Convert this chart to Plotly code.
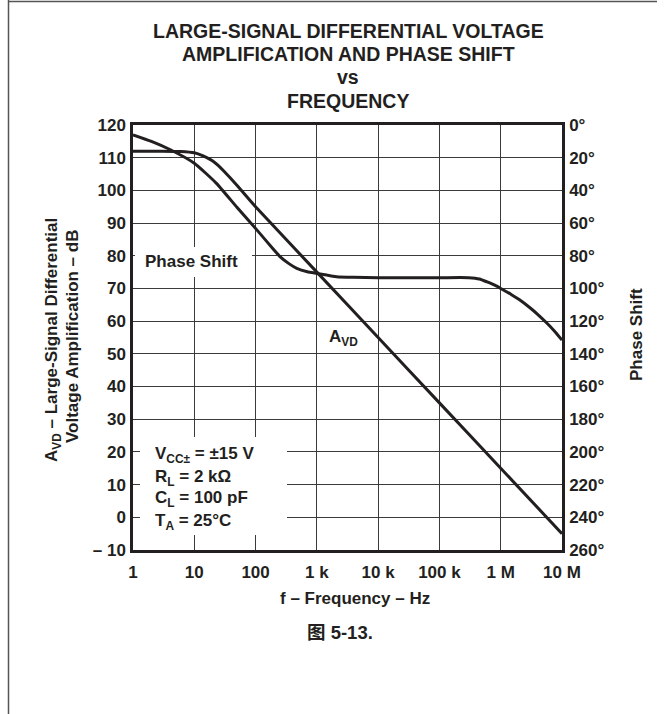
import plotly.graph_objects as go

# Large-signal differential voltage amplification (dB) vs frequency (Hz)
avd_freq = [1, 3, 6, 10, 13, 16, 20, 25, 30, 50, 100, 1e3, 1e4, 1e5, 1e6, 1e7]
avd_db = [112, 112, 111.9, 111.5, 110.8, 110.0, 109.0, 107.5, 106.0, 101.5, 95, 75, 55, 35, 15, -5]

# Phase shift (degrees) vs frequency (Hz)
ph_freq = [1, 2, 4, 10, 23, 50, 104, 200, 250, 350, 470, 700, 1e3, 2.1e3, 3.9e3, 1e4, 1e5, 3e5,
           4.5e5, 6e5, 8e5, 1e6, 1.5e6, 2e6, 3e6, 4e6, 5.7e6, 7.5e6, 1e7]
ph_deg = [6, 10, 15, 23.4, 35.7, 50.5, 64, 76.5, 80.5, 84.8, 87.7, 89.8, 90.8, 92.8, 93.2, 93.4, 93.4, 93.4,
          94.2, 96, 98, 100, 103.8, 106.8, 111.8, 115.8, 121.3, 126.0, 131.6]

x_tickvals = [1, 10, 100, 1e3, 1e4, 1e5, 1e6, 1e7]
x_ticktext = ["1", "10", "100", "1 k", "10 k", "100 k", "1 M", "10 M"]
y_tickvals = list(range(-10, 121, 10))
y_ticktext = ["– 10" if v < 0 else str(v) for v in y_tickvals]
y2_tickvals = list(range(0, 261, 20))
y2_ticktext = [f"{v}°" for v in y2_tickvals]

W, H = 665, 714
L, R, T, B = 133, 562, 125, 550
INK = "#231f20"
GRID = "#3a3a3a"
FONT = "Liberation Sans, Arial, Helvetica, sans-serif"


def px(x):
    return (x - L) / (R - L)


def py(y):
    return (B - y) / (B - T)


fig = go.Figure()
fig.add_trace(go.Scatter(x=avd_freq, y=avd_db, mode="lines",
                         line=dict(color=INK, width=3, shape="spline", smoothing=0.5),
                         hoverinfo="skip", showlegend=False))
fig.add_trace(go.Scatter(x=ph_freq, y=ph_deg, mode="lines", yaxis="y2",
                         line=dict(color=INK, width=3, shape="spline", smoothing=0.5),
                         hoverinfo="skip", showlegend=False))

tick_font = dict(family=FONT, size=17, color=INK, weight="bold")

fig.update_layout(
    width=W, height=H, autosize=False,
    margin=dict(l=L, r=W - R, t=T, b=H - B, pad=0),
    paper_bgcolor="white", plot_bgcolor="white",
    showlegend=False,
    xaxis=dict(type="log", range=[0, 7], tickvals=x_tickvals, ticktext=x_ticktext,
               showgrid=True, gridcolor=GRID, gridwidth=1.2, zeroline=False,
               showline=True, linecolor=INK, linewidth=2.5, mirror=True,
               ticks="", tickfont=tick_font, ticklabelstandoff=5),
    yaxis=dict(range=[-10, 120], tickvals=y_tickvals, ticktext=y_ticktext,
               showgrid=True, gridcolor=GRID, gridwidth=1.2, zeroline=False,
               showline=True, linecolor=INK, linewidth=2.5,
               ticks="", tickfont=tick_font, ticklabelstandoff=1),
    yaxis2=dict(range=[260, 0], tickvals=y2_tickvals, ticktext=y2_ticktext,
                overlaying="y", side="right", showgrid=False, zeroline=False,
                showline=True, linecolor=INK, linewidth=2.5,
                ticks="", tickfont=tick_font, ticklabelstandoff=1),
)

shapes = []
# white panels behind the in-plot labels, hiding the grid there
for x0, x1, y0, y1 in [(135, 252, 247, 277), (140, 287, 437, 535)]:
    shapes.append(dict(type="rect", xref="paper", yref="paper", layer="above",
                       x0=px(x0), x1=px(x1), y0=py(y1), y1=py(y0),
                       fillcolor="white", line=dict(width=0)))
# page frame
shapes.append(dict(type="line", xref="paper", yref="paper", layer="above",
                   x0=px(8.5), x1=px(8.5), y0=py(0), y1=py(H),
                   line=dict(color="#555", width=1.5)))
shapes.append(dict(type="line", xref="paper", yref="paper", layer="above",
                   x0=px(8), x1=px(657), y0=py(1.5), y1=py(1.5),
                   line=dict(color="#555", width=1.5)))
fig.update_layout(shapes=shapes)


def note(text, x, y, size=17, xanchor="center", yanchor="middle", angle=0, family=FONT):
    fig.add_annotation(text=text, x=px(x), y=py(y), xref="paper", yref="paper",
                       showarrow=False, xanchor=xanchor, yanchor=yanchor,
                       textangle=angle,
                       font=dict(family=family, size=size, color=INK, weight="bold"))


# title
title_lines = ["LARGE-SIGNAL DIFFERENTIAL VOLTAGE", "AMPLIFICATION AND PHASE SHIFT", "vs", "FREQUENCY"]
for line, y in zip(title_lines, [31, 54, 77, 101]):
    note(line, 348, y, size=19.5)

# axis titles
note("A<sub>VD</sub> – Large-Signal Differential", 53, 340, angle=-90)
note("Voltage Amplification – dB", 72, 337, angle=-90)
note("Phase Shift", 636, 335, angle=-90)
note("f – Frequency – Hz", 355, 598)

# in-plot labels
note("Phase Shift", 143, 261, xanchor="left")
note("A<sub>VD</sub>", 327, 338, xanchor="left")
cond_lines = ["V<sub>CC±</sub> = ±15 V", "R<sub>L</sub> = 2 kΩ",
              "C<sub>L</sub> = 100 pF", "T<sub>A</sub> = 25°C"]
for line, y in zip(cond_lines, [455, 478, 499, 522]):
    note(line, 153, y, xanchor="left")

# figure caption
note("图 5-13.", 340, 632, size=18.5, family="Liberation Sans, Noto Sans CJK SC, sans-serif")

fig.write_html("out.html")
